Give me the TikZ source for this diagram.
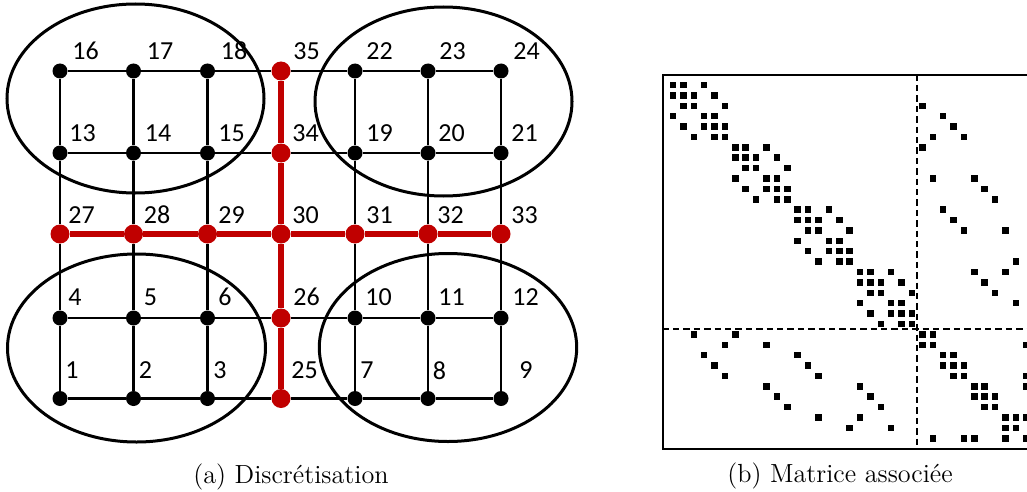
\documentclass[tikz,border=0pt]{standalone}
\usepackage{fontspec}
\newfontfamily\labfont{Carlito}
\definecolor{dred}{RGB}{192,0,0}
\begin{document}
\begin{tikzpicture}[x=0.5pt,y=-0.5pt,
  bdot/.style={circle,fill=black,inner sep=0pt,minimum size=7.5pt},
  rdot/.style={circle,fill=dred,inner sep=0pt,minimum size=9.5pt},
  gline/.style={line width=1.15pt,black},
  rline/.style={line width=2.8pt,dred},
  lab/.style={anchor=west,inner sep=0pt,font=\labfont\fontsize{13}{15}\selectfont},
  subdom/.style={line width=1.5pt,black},
  captext/.style={font=\fontsize{13.1}{15}\selectfont,inner sep=0pt},
  mbox/.style={line width=1pt,black},
  mdash/.style={line width=1pt,black,dash pattern=on 3.2pt off 2pt}]
\useasboundingbox (0,0) rectangle (1027,492);
\begin{scope}
\clip (0,0) rectangle (1027,492);
\def\colx{{60,133.5,207.5,281,355,428,501}}
\def\rowy{{71,153,234,318,398.5}}
% black nodes
\foreach \n/\c/\r in {16/0/0,17/1/0,18/2/0,22/4/0,23/5/0,24/6/0,
  13/0/1,14/1/1,15/2/1,19/4/1,20/5/1,21/6/1,
  4/0/3,5/1/3,6/2/3,10/4/3,11/5/3,12/6/3,
  1/0/4,2/1/4,3/2/4,7/4/4,8/5/4,9/6/4}{
  \pgfmathsetmacro\px{\colx[\c]}
  \pgfmathsetmacro\py{\rowy[\r]}
  \node[bdot] (n\n) at (\px,\py) {};
}
% red interface nodes
\foreach \n/\c/\r in {35/3/0,34/3/1,27/0/2,28/1/2,29/2/2,30/3/2,31/4/2,32/5/2,33/6/2,26/3/3,25/3/4}{
  \pgfmathsetmacro\px{\colx[\c]}
  \pgfmathsetmacro\py{\rowy[\r]}
  \node[rdot] (n\n) at (\px,\py) {};
}
% black grid edges
\foreach \a/\b in {1/2,2/3,3/25,25/7,7/8,8/9,4/5,5/6,6/26,26/10,10/11,11/12,
  13/14,14/15,15/34,34/19,19/20,20/21,16/17,17/18,18/35,35/22,22/23,23/24,
  1/4,4/27,27/13,13/16,2/5,5/28,28/14,14/17,3/6,6/29,29/15,15/18,
  7/10,10/31,31/19,19/22,8/11,11/32,32/20,20/23,9/12,12/33,33/21,21/24}{
  \draw[gline] (n\a) -- (n\b);
}
% red interface edges
\foreach \a/\b in {27/28,28/29,29/30,30/31,31/32,32/33,25/26,26/30,30/34,34/35}{
  \draw[rline] (n\a) -- (n\b);
}
% labels
\foreach \n/\dx/\dy in {16/12/-20,17/13/-20,18/13/-20,35/12/-20,22/11/-20,23/11/-20,24/12/-20,
  13/9/-20,14/11/-20,15/10.5/-20,34/11/-20,19/11/-20,20/10/-20,21/10/-20,
  27/8/-19,28/10/-19,29/10.5/-19,30/11/-19,31/11/-19,32/9/-19,33/10/-19,
  4/8/-21,5/10/-21,6/10.5/-21,26/12/-21,10/10/-21,11/10/-21,12/11/-21,
  1/5/-28,2/5/-28,3/5.5/-28,25/10/-28,7/5/-28,8/4.5/-28,9/18/-28}{
  \node[lab] (l\n) at ([shift={(\dx,\dy)}]n\n.center) {\n};
}
% subdomains
\draw[subdom] (135.5,98.5) ellipse [x radius=128.5,y radius=94.5];
\draw[subdom] (443.5,101.5) ellipse [x radius=128.5,y radius=94.5];
\draw[subdom] (136.5,348) ellipse [x radius=129,y radius=94];
\draw[subdom] (448,347.5) ellipse [x radius=128.7,y radius=94];
% captions
\node[captext] (capa) at (291,477) {(a) Discrétisation};
\node[captext] (capb) at (840,476) {(b) Matrice associée};
% matrix
\draw[mbox] (662.6,74.6) rectangle (1036.6,448.6);
\draw[mdash] (917.4,74.6) -- (917.4,448.6);
\draw[mdash] (662.6,329.2) -- (1036.6,329.2);
\def\perm{{0,1,2,3,4,5,6,7,8,9,10,11,12,13,14,15,16,17,18,19,20,21,22,23,24,25,26,27,28,29,35,30,31,32,33,34}}
\newcommand\ment[2]{\fill ({673+(#2-1)*10.39-3.25},{85+(#1-1)*10.39-3.25}) rectangle ++(6.5,6.5);}
\foreach \i in {1,...,35}{\ment{\i}{\i}}
\foreach \a/\b in {1/2,2/3,3/25,25/7,7/8,8/9,4/5,5/6,6/26,26/10,10/11,11/12,
  27/28,28/29,29/30,30/31,31/32,32/33,
  13/14,14/15,15/34,34/19,19/20,20/21,16/17,17/18,18/35,35/22,22/23,23/24,
  1/4,4/27,27/13,13/16,2/5,5/28,28/14,14/17,3/6,6/29,29/15,15/18,
  25/26,26/30,30/34,34/35,
  7/10,10/31,31/19,19/22,8/11,11/32,32/20,20/23,9/12,12/33,33/21,21/24}{
  \pgfmathtruncatemacro\pa{\perm[\a]}
  \pgfmathtruncatemacro\pb{\perm[\b]}
  \ment{\pa}{\pb}\ment{\pb}{\pa}
}
\end{scope}
\end{tikzpicture}
\end{document}
